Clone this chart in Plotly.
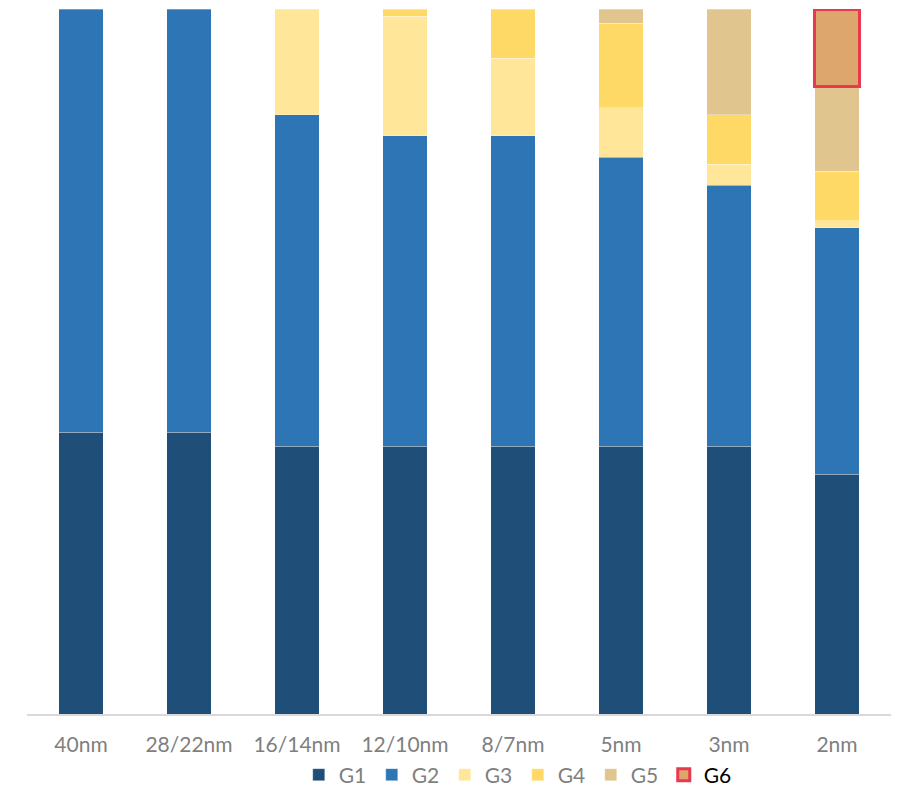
import plotly.graph_objects as go

categories = ["40nm", "28/22nm", "16/14nm", "12/10nm", "8/7nm", "5nm", "3nm", "2nm"]
series_names = ["G1", "G2", "G3", "G4", "G5", "G6"]
g1 = [40, 40, 38, 38, 38, 38, 38, 34]
g2 = [60, 60, 47, 44, 44, 41, 37, 35]
g3 = [0, 0, 15, 17, 11, 7, 3, 1]
g4 = [0, 0, 0, 1, 7, 12, 7, 7]
g5 = [0, 0, 0, 0, 0, 2, 15, 12]
g6 = [0, 0, 0, 0, 0, 0, 0, 11]
colors = ["#1F4E79", "#2E75B6", "#FFE699", "#FFD966", "#E0C58F", "#DCA66C"]
highlight = "#E8394F"

fig = go.Figure()
for i, (name, vals) in enumerate(zip(series_names, [g1, g2, g3, g4, g5, g6])):
    is_hl = name == "G6"
    xs = [c for c, v in zip(categories, vals) if v > 0]
    ys = [v for v in vals if v > 0]
    if is_hl:
        line = dict(color=highlight, width=3)
    else:
        line = dict(color="rgba(255,255,255,0.6)", width=0.5)
    fig.add_trace(go.Bar(
        x=xs, y=ys,
        name=("<span style='color:#000000'>%s</span>" % name) if is_hl else name,
        marker=dict(color=colors[i], line=line),
        cliponaxis=False,
    ))

fig.update_layout(
    barmode="stack",
    bargap=0.59,
    width=897, height=786,
    margin=dict(l=27, r=6, t=9, b=72),
    plot_bgcolor="white", paper_bgcolor="white",
    font=dict(family="Lato", size=21, color="#7F7F7F"),
    showlegend=True,
    legend=dict(orientation="h", x=0.568, xanchor="center",
                yref="container", y=0.014, yanchor="middle",
                font=dict(size=21, color="#7F7F7F"), itemwidth=30, entrywidth=28,
                traceorder="normal", tracegroupgap=0),
    xaxis=dict(showline=True, linecolor="#D9D9D9", linewidth=1.5, showgrid=False,
               ticks="", tickfont=dict(size=21, color="#7F7F7F"), ticklabelstandoff=11,
               automargin=False, categoryorder="array", categoryarray=categories),
    yaxis=dict(range=[0, 100], visible=False, showgrid=False),
)

fig.write_html("out.html")
